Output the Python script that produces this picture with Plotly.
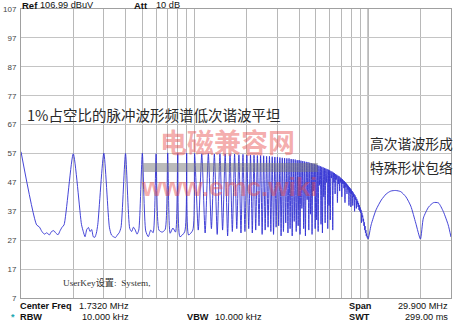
import plotly.graph_objects as go

# ---- Spectrum data (dBuV) -------------------------------------------------
# Pulse train, fundamental 0.1 MHz, 1 % duty cycle, RBW 10 kHz
fund_mhz = 0.1

# Peak level of harmonic n = 1..99
peak_dbuv = [
    57.6, 56.9, 57.1, 57.0, 57.1, 56.9, 57.2, 57.0, 57.1, 57.0,
    56.9, 57.0, 56.8, 56.9, 56.8, 56.7, 56.8, 56.6, 56.7, 56.5,
    56.5, 56.4, 56.3, 56.3, 56.2, 56.0, 56.0, 55.9, 55.8, 55.8,
    55.6, 55.5, 55.4, 55.3, 55.3, 55.1, 55.0, 54.9, 54.7, 54.7,
    54.5, 54.4, 54.2, 54.1, 54.0, 53.8, 53.7, 53.5, 53.4, 53.2,
    53.0, 52.8, 52.6, 52.4, 52.2, 52.0, 51.8, 51.6, 51.4, 51.2,
    50.9, 50.7, 50.4, 50.2, 49.9, 49.6, 49.3, 49.1, 48.7, 48.4,
    48.1, 47.7, 47.4, 47.0, 46.6, 46.2, 45.8, 45.3, 44.9, 44.5,
    44.0, 43.5, 43.0, 42.5, 41.9, 41.3, 40.6, 39.9, 39.1, 38.3,
    37.5, 36.5, 35.5, 34.4, 33.2, 31.9, 30.5, 29.3, 28.3,
]

# Noise floor samples between harmonics n and n+1 for n = 1..9
floor_low = [
    [32.3, 31.6, 30.0, 29.1, 29.6, 28.8, 30.0, 30.3, 29.4, 28.9, 30.3, 31.5, 32.3],
    [32.5, 30.0, 28.2, 30.7, 31.4, 30.0, 30.7, 28.2, 28.0, 29.4, 32.5],
    [31.5, 28.8, 28.2, 27.9, 28.8, 29.6, 31.5],
    [31.1, 30.0, 31.5, 30.5, 29.1, 30.5],
    [30.2, 28.2, 30.5, 29.6],
    [30.5, 29.8, 30.7],
    [29.4, 31.2, 29.8],
    [28.2, 29.9],
    [28.8, 30.5],
]

# Trace minimum between harmonics n and n+1 for n = 10..99
valley_dbuv = [
    30.5, 29.5, 31.0, 29.0, 30.5, 28.5, 30.0, 31.0, 29.5, 30.0,
    31.0, 29.5, 30.5, 32.0, 29.0, 30.5, 31.5, 30.0, 29.0, 31.5,
    32.0, 28.5, 30.0, 33.0, 29.5, 31.0, 28.5, 33.5, 30.0, 32.0,
    29.0, 38.0, 31.0, 28.5, 41.0, 30.5, 36.0, 29.0, 44.0, 31.0,
    34.0, 30.0, 46.0, 32.5, 29.5, 42.0, 33.0, 47.0, 31.0, 39.0,
    34.0, 48.5, 30.5, 47.0, 43.0, 48.0, 40.0, 46.5, 44.0, 47.0,
    42.0, 46.5, 45.0, 40.0, 45.5, 43.0, 44.5, 39.0, 43.5, 38.5,
    43.0, 39.0, 42.0, 37.0, 41.0, 38.0, 39.5, 38.5, 37.5, 37.0,
    36.5, 33.0, 35.0, 33.5, 32.0, 30.5, 29.5, 28.5, 28.0, 27.6,
]

# Above 10 MHz the harmonics merge into the sinc envelope
env_mhz = [10.0, 10.4, 11.1, 11.9, 12.7, 13.5, 14.4, 15.4, 16.5, 17.6,
           18.8, 20.0, 20.8, 22.3, 23.8, 25.4, 27.1, 28.9, 30.0]
env_dbuv = [27.4, 32.3, 37.5, 40.9, 43.0, 44.0, 44.2, 43.8, 42.0, 38.8,
            32.9, 27.4, 34.7, 38.5, 40.0, 39.9, 36.9, 32.3, 28.1]

y_ticks = [7, 17, 27, 37, 47, 57, 67, 77, 87, 97, 107]
x_grid_mhz = [0.2, 0.3, 0.4, 0.5, 0.6, 0.7, 0.8, 0.9, 1,
              2, 3, 4, 5, 6, 7, 8, 9, 10, 20]

# ---- Build the trace path ---------------------------------------------------
skirt = 0.023  # MHz from a harmonic to where its filter skirt meets the floor
fx, fy = [], []
for n, pk in enumerate(peak_dbuv, start=1):
    fn = n * fund_mhz
    fx.append(fn)
    fy.append(pk)
    nxt = (n + 1) * fund_mhz
    if n <= len(floor_low):
        vals = floor_low[n - 1]
        a, b = fn + skirt, nxt - skirt
        k = len(vals)
        for i, v in enumerate(vals):
            fx.append(a + (b - a) * i / (k - 1))
            fy.append(v)
    else:
        fx.append((fn + nxt) / 2)
        fy.append(valley_dbuv[n - 1 - len(floor_low)])
fx += env_mhz
fy += env_dbuv

# ---- Figure -------------------------------------------------------------------
W, H = 455, 323
L, R, T, B = 16, 3, 9, 25
PW, PH = W - L - R, H - T - B


def px(x):
    return (x - L) / PW


def py(y):
    return (H - B - y) / PH


fig = go.Figure()
fig.add_trace(go.Scatter(
    x=fx, y=fy, mode="lines",
    line=dict(color="#3030d2", width=0.9, shape="spline", smoothing=0.6),
    hoverinfo="skip",
))

SANS = "Liberation Sans, Arial, sans-serif"
CJK = "Noto Sans CJK SC, sans-serif"

ann = []


def text(x, y, s, size=9, bold=False, color="#111", anchor="left", family=SANS):
    ann.append(dict(
        x=px(x), y=py(y), xref="paper", yref="paper", text=s, showarrow=False,
        xanchor=anchor, yanchor="middle",
        font=dict(family=family, size=size, color=color,
                  weight="bold" if bold else "normal"),
    ))


# header
text(15, 5, "Ref", 9.5, True)
text(33, 5, "106.99 dBuV", 9.2)
text(129, 5, "Att", 9.5, True)
text(151, 5, "10 dB", 9.2)
# footer
text(13, 305.5, "Center Freq", 9.2, True)
text(73, 305.5, "1.7320 MHz", 9.2)
text(347, 305.5, "Span", 9.2, True)
text(451, 305.5, "29.900 MHz", 9.2, anchor="right")
text(4, 316.5, "*", 9, True, color="#20a8b0")
text(13, 316.5, "RBW", 9.2, True)
text(76, 316.5, "10.000 kHz", 9.2)
text(182, 316.5, "VBW", 9.2, True)
text(211, 316.5, "10.000 kHz", 9.2)
text(347, 316.5, "SWT", 9.2, True)
text(451, 316.5, "299.00 ms", 9.2, anchor="right")

# notes on the plot
text(20, 114, "1%占空比的脉冲波形频谱低次谐波平坦", 14.5, color="#2a2a2a", family=CJK)
text(368, 143, "高次谐波形成", 13.8, color="#2a2a2a", family=CJK)
text(368, 166.5, "特殊形状包络", 13.8, color="#2a2a2a", family=CJK)
text(57, 283, "UserKey设置:  System,", 9.2, color="#333",
     family="Liberation Serif, Noto Sans CJK SC, serif")

# site watermark
ann.append(dict(x=px(225), y=py(141), xref="paper", yref="paper",
                text="电磁兼容网", showarrow=False, xanchor="center", yanchor="middle",
                font=dict(family=CJK, size=27, color="rgba(232,70,70,0.45)",
                          weight="bold")))
ann.append(dict(x=px(227), y=py(187), xref="paper", yref="paper",
                text="www.emc.wiki", showarrow=False, xanchor="center", yanchor="middle",
                font=dict(family=SANS, size=26, color="rgba(232,70,70,0.45)",
                          weight="bold")))

shapes = [
    # watermark bar
    dict(type="rect", xref="paper", yref="paper", x0=px(140), x1=px(317),
         y0=py(172), y1=py(163), fillcolor="rgba(120,120,120,0.5)",
         line=dict(width=0), layer="above"),
    # 10 MHz decade line
    dict(type="line", xref="x", yref="paper", x0=10, x1=10, y0=0, y1=1,
         line=dict(color="#a8a8a8", width=1.6), layer="below"),
]

fig.update_layout(
    width=W, height=H,
    margin=dict(l=L, r=R, t=T, b=B, pad=0),
    paper_bgcolor="white", plot_bgcolor="white",
    showlegend=False,
    annotations=ann, shapes=shapes,
    xaxis=dict(
        type="log", range=[-1, 1.47712], tickvals=x_grid_mhz,
        showticklabels=False, ticks="", showgrid=True, gridcolor="#b8b8b8",
        gridwidth=1, zeroline=False, showline=True, mirror=True,
        linecolor="#a0a0a0", linewidth=1, fixedrange=True,
    ),
    yaxis=dict(
        range=[7, 107], tickvals=y_ticks, ticktext=[str(v) for v in y_ticks],
        tickfont=dict(family=SANS, size=8, color="#444"), ticks="",
        showgrid=True, gridcolor="#c4c4c4", gridwidth=1, zeroline=False,
        showline=True, mirror=True, linecolor="#a0a0a0", linewidth=1,
        ticklabelstandoff=2, fixedrange=True,
    ),
)

fig.write_html("out.html")
